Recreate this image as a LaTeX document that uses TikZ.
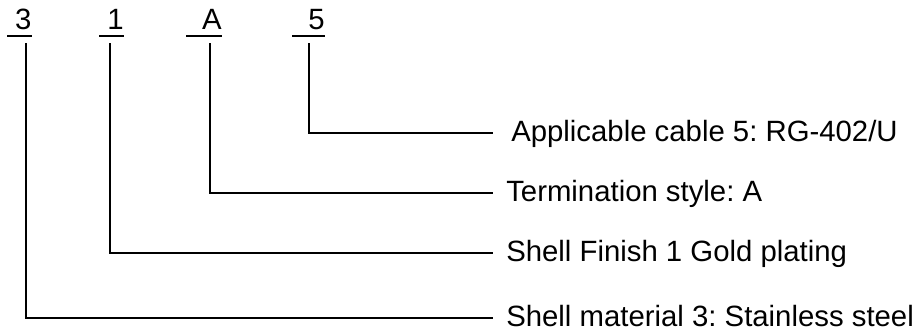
\documentclass[tikz,border=0pt]{standalone}
\usepackage{fontspec}
\setmainfont{Liberation Sans}
\frenchspacing
\begin{document}
\begin{tikzpicture}[x=0.75pt,y=-0.75pt,
  code/.style={anchor=base east,inner sep=0pt,font=\fontsize{22pt}{24pt}\selectfont},
  desc/.style={anchor=base west,inner sep=0pt,font=\fontsize{22pt}{24pt}\selectfont},
  ln/.style={line width=1.5pt,black}]
\useasboundingbox (0,0) rectangle (920,334);
% top code letters
\node[code] (d3) at (31.7,30) {3};
\node[code] (d1) at (124,30) {1};
\node[code] (dA) at (222,30) {A};
\node[code] (d5) at (325,30) {5};
\draw[ln] (7.3,36) -- (31.7,36);
\draw[ln] (99,36) -- (124,36);
\draw[ln] (186,36) -- (222,36);
\draw[ln] (292,36) -- (325,36);
% descriptions
\node[desc] (t5) at (511,141.8) {Applicable cable 5: RG-402/U};
\node[desc] (tA) at (506,201.8) {Termination style: A};
\node[desc] (t1) at (506,261.8) {Shell Finish 1 Gold plating};
\node[desc] (t3) at (506,326.8) {Shell material 3: Stainless steel};
% connector ends
\coordinate (s3) at (26,43.3);
\coordinate (s1) at (110,43.3);
\coordinate (sA) at (210,43.3);
\coordinate (s5) at (309,43.3);
\coordinate (e3) at (493,318.3);
\coordinate (e1) at (493,253.3);
\coordinate (eA) at (493,193.3);
\coordinate (e5) at (493,133.3);
\draw[ln] (s3) |- (e3);
\draw[ln] (s1) |- (e1);
\draw[ln] (sA) |- (eA);
\draw[ln] (s5) |- (e5);
\end{tikzpicture}
\end{document}
